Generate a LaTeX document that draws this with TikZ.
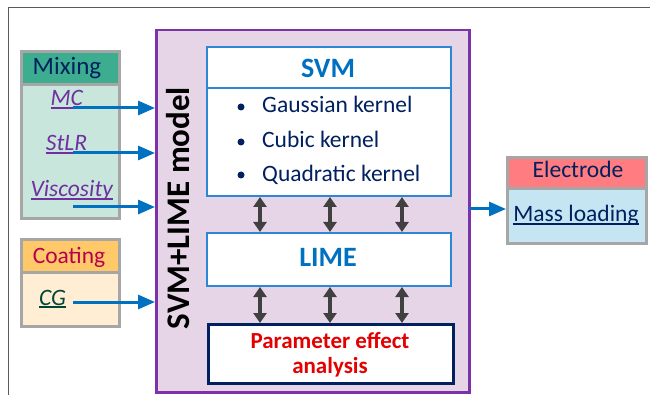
\documentclass[tikz,border=0pt]{standalone}
\usepackage{fontspec}
\setmainfont{Carlito}
\usetikzlibrary{arrows.meta}
\definecolor{frameg}{RGB}{90,90,90}
\definecolor{boxg}{RGB}{166,166,166}
\definecolor{mixh}{RGB}{60,174,143}
\definecolor{mixb}{RGB}{200,230,220}
\definecolor{coath}{RGB}{255,200,105}
\definecolor{coatb}{RGB}{255,237,212}
\definecolor{elh}{RGB}{255,124,128}
\definecolor{elb}{RGB}{196,229,241}
\definecolor{bigf}{RGB}{230,213,230}
\definecolor{bigd}{RGB}{125,50,170}
\definecolor{ablue}{RGB}{0,112,192}
\definecolor{lblue}{RGB}{46,134,214}
\definecolor{navy}{RGB}{0,32,96}
\definecolor{crim}{RGB}{185,0,80}
\definecolor{dgreen}{RGB}{0,70,55}
\definecolor{purp}{RGB}{112,48,160}
\definecolor{pred}{RGB}{228,0,0}
\definecolor{dgray}{RGB}{64,64,64}
\newcommand{\myul}[1]{\leavevmode\setbox0=\hbox{#1}\rlap{\rule[-3pt]{\wd0}{1.6pt}}\box0}
\begin{document}
\begin{tikzpicture}[x=1pt,y=-1pt,
  gbox/.style={draw=boxg,line width=3pt,inner sep=0pt,anchor=north west},
  bbox/.style={draw=lblue,line width=2pt,fill=white,inner sep=0pt,anchor=north west},
  txt/.style={inner sep=0pt,anchor=base,font=\fontsize{23.5}{28}\selectfont},
  bul/.style={circle,fill=navy,inner sep=0pt,minimum size=7pt},
  inarrow/.style={draw=ablue,line width=3pt,-{Triangle[length=17pt,width=14pt]}},
  dbl/.style={draw=dgray,line width=4pt,{Triangle[length=10pt,width=13pt]}-{Triangle[length=10pt,width=13pt]}},
  ]
\useasboundingbox (0,0) rectangle (650,395);
% frame
\draw[frameg,line width=1pt] (8,395) -- (8,8) -- (650,8);
% big box
\fill[gray!55] (159,33) rectangle (471,394);
\node[draw=bigd,fill=bigf,line width=2.5pt,inner sep=0pt,anchor=north west,minimum width=313pt,minimum height=362pt] (big) at (155,29) {};
\node[inner sep=0pt,rotate=90,font=\fontsize{33}{38}\selectfont\bfseries] (mdl) at (178,208) {SVM+LIME model};
% SVM
\node[bbox,minimum width=244pt,minimum height=41pt] (svmh) at (206,46) {};
\node[bbox,minimum width=244pt,minimum height=108pt] (svmb) at (206,87) {};
\node[txt,text=ablue,font=\fontsize{28}{32}\selectfont\bfseries] (svmt) at (328,78) {SVM};
\node[bul] (b1) at (241,107) {};
\node[bul] (b2) at (241,142) {};
\node[bul] (b3) at (241,175) {};
\node[txt,anchor=base west,text=navy] (k1) at (262,113) {Gaussian kernel};
\node[txt,anchor=base west,text=navy] (k2) at (262,148) {Cubic kernel};
\node[txt,anchor=base west,text=navy] (k3) at (262,182) {Quadratic kernel};
% LIME
\node[bbox,minimum width=244pt,minimum height=53pt] (lime) at (206,232) {};
\node[txt,text=ablue,font=\fontsize{28}{32}\selectfont\bfseries] (limet) at (328,266) {LIME};
% Parameter
\node[draw=navy,fill=white,line width=2.5pt,inner sep=0pt,anchor=north west,minimum width=245pt,minimum height=59pt] (par) at (207,323) {};
\node[txt,text=pred,font=\fontsize{23}{28}\selectfont\bfseries] (part1) at (330,348) {Parameter effect};
\node[txt,text=pred,font=\fontsize{23}{28}\selectfont\bfseries] (part2) at (330,373) {analysis};
% double arrows
\coordinate (c1) at (260,0);
\coordinate (c2) at (330,0);
\coordinate (c3) at (402,0);
\foreach \c in {c1,c2,c3}{
  \draw[dbl] (svmb.south -| \c) -- (lime.north -| \c);
  \draw[dbl] (lime.south -| \c) -- (par.north -| \c);
}
% Mixing
\node[gbox,fill=mixh,minimum width=98pt,minimum height=33pt] (mixh) at (20,50) {};
\node[gbox,fill=mixb,minimum width=98pt,minimum height=134pt] (mixb) at (20,83) {};
\node[txt,text=navy,font=\fontsize{25}{28}\selectfont] (mixt) at (67,75) {Mixing};
\node[txt,text=purp] (mc) at (67,106) {\myul{\textit{MC}}};
\node[txt,text=purp] (stlr) at (66.5,151) {\myul{\textit{StLR}}};
\node[txt,text=purp] (visc) at (72,197) {\myul{\textit{Viscosity}}};
% Coating
\node[gbox,fill=coath,minimum width=98pt,minimum height=33pt] (coh) at (20,238) {};
\node[gbox,fill=coatb,minimum width=98pt,minimum height=54pt] (cob) at (20,271) {};
\node[txt,text=crim] (cot) at (69,263) {Coating};
\node[txt,text=dgreen] (cg) at (52.5,305) {\myul{\textit{CG}}};
% Electrode
\node[gbox,fill=elh,minimum width=139pt,minimum height=31pt] (elh) at (506,156) {};
\node[gbox,fill=elb,minimum width=139pt,minimum height=55pt] (elb) at (506,187) {};
\node[txt,text=navy] (elt) at (578,178) {Electrode};
\node[txt,text=navy] (ml) at (576,222) {\myul{Mass loading}};
% input arrows
\coordinate (a1) at (73,108);
\coordinate (a2) at (73,153);
\coordinate (a3) at (73,207);
\coordinate (a4) at (73,302);
\foreach \a in {a1,a2,a3,a4}{
  \draw[inarrow] (\a) -- (big.west |- \a);
}
\coordinate (o1) at (469,209);
\draw[inarrow] (o1) -- (elb.west |- o1);
\end{tikzpicture}
\end{document}
